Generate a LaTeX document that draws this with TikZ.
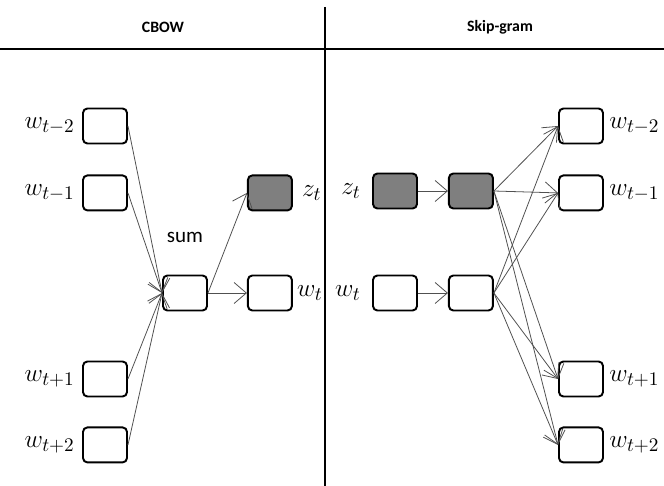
\documentclass[tikz,border=0pt]{standalone}
\usepackage{fontspec}
\setsansfont{Carlito}
\usepackage{xcolor}
\definecolor{BoxGray}{HTML}{7F7F7F}
\definecolor{LineGray}{HTML}{505050}
\usepackage{tikz}
\usetikzlibrary{arrows.meta, positioning}
\tikzset{
  word box/.style={
    rectangle, rounded corners=2.5pt, draw=black, line width=1.1pt,
    minimum width=0.88cm, minimum height=0.7cm, inner sep=0pt, fill=white
  },
  hidden box/.style={word box, fill=BoxGray},
  word label/.style={inner sep=0pt, font=\fontsize{15}{17}\selectfont},
  head label/.style={font=\fontsize{9}{11}\selectfont\sffamily\bfseries},
  sum label/.style={font=\fontsize{12}{14}\selectfont\sffamily},
  arrow/.style={-{Straight Barb[length=7pt, width=12pt]}, line width=0.45pt, color=LineGray},
  rule/.style={line width=0.9pt, color=black},
}
\begin{document}
\begin{tikzpicture}[x=0.02cm, y=-0.02cm]
  \useasboundingbox (0,0) rectangle (664,486);

  % header
  \node[head label] (cbow) at (163,27) {CBOW};
  \node[head label] (skip) at (500,27) {Skip-gram};
  \draw[rule] (0,49) -- (664,49);
  \draw[rule, line width=0.7pt] (325,7) -- (325,486);

  % CBOW
  \node[word box] (in2) at (105,126) {};
  \node[word box, below=0.6cm of in2] (in1) {};
  \node[word box] (in3) at (105,379) {};
  \node[word box, below=0.58cm of in3] (in4) {};

  \node[word label, left=0.14cm of in2] (in2 lbl) {$w_{t-2}$};
  \node[word label, left=0.14cm of in1] (in1 lbl) {$w_{t-1}$};
  \node[word label, left=0.14cm of in3] (in3 lbl) {$w_{t+1}$};
  \node[word label, left=0.14cm of in4] (in4 lbl) {$w_{t+2}$};

  \node[word box] (sum) at (185,293) {};
  \node[sum label] (sum lbl) at (185,237) {sum};
  \node[word box, right=0.78cm of sum] (wl) {};
  \node[hidden box] (zl) at (wl |- in1) {};
  \node[word label, right=0.18cm of zl] (zl lbl) {$z_t$};
  \node[word label, right=0.08cm of wl] (wl lbl) {$w_t$};

  \foreach \n in {in2, in1, in3, in4}
    \draw[arrow] (\n.east) -- (sum.west);
  \draw[arrow] (sum.east) -- (zl.west);
  \draw[arrow] (sum.east) -- (wl.west);

  % Skip-gram
  \node[hidden box] (zr) at (395,191) {};
  \node[hidden box, right=0.6cm of zr] (hz) {};
  \node[word box] (wr) at (395,293) {};
  \node[word box, right=0.6cm of wr] (hw) {};
  \node[word label, left=0.22cm of zr] (zr lbl) {$z_t$};
  \node[word label, left=0.22cm of wr] (wr lbl) {$w_t$};

  \node[word box] (out2) at (581,126) {};
  \node[word box, below=0.6cm of out2] (out1) {};
  \node[word box] (out3) at (581,379) {};
  \node[word box, below=0.58cm of out3] (out4) {};

  \node[word label, right=0.1cm of out2] (out2 lbl) {$w_{t-2}$};
  \node[word label, right=0.1cm of out1] (out1 lbl) {$w_{t-1}$};
  \node[word label, right=0.1cm of out3] (out3 lbl) {$w_{t+1}$};
  \node[word label, right=0.1cm of out4] (out4 lbl) {$w_{t+2}$};

  \draw[arrow] (zr.east) -- (hz.west);
  \draw[arrow] (wr.east) -- (hw.west);
  \foreach \n in {out2, out1, out3, out4} {
    \draw[arrow] (hz.east) -- (\n.west);
    \draw[arrow] (hw.east) -- (\n.west);
  }
\end{tikzpicture}
\end{document}
